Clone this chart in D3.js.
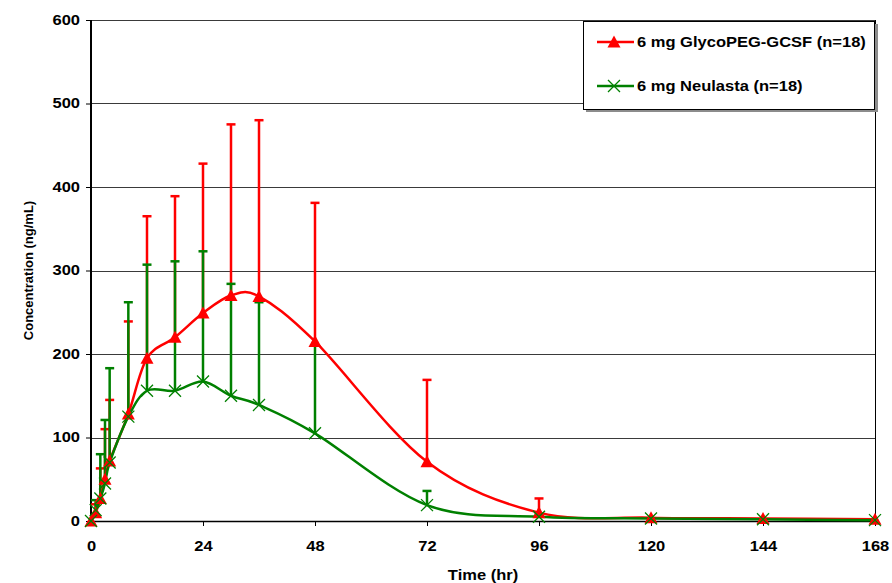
<!DOCTYPE html>
<html>
<head>
<meta charset="utf-8">
<script src="https://cdn.jsdelivr.net/npm/d3@7"></script>
<style>
  body { margin: 0; background: #fff; }
  text { font-family: "Liberation Sans", Arial, sans-serif; font-weight: bold; fill: #000; }
</style>
</head>
<body>
<div id="chart"></div>
<script>
'use strict';

// sampling times (hr)
const times = [0, 1, 2, 3, 4, 8, 12, 18, 24, 30, 36, 48, 72, 96, 120, 144, 168];

// 6 mg GlycoPEG-GCSF: mean and SD (ng/mL), only the upper bar is drawn
const glycoMean = [0, 10, 27, 50, 72, 128, 195, 220, 249, 270, 269, 215, 71, 10, 4, 3, 2];
const glycoSd   = [0, 10, 36, 60, 73, 111, 170, 169, 179, 205, 211, 166, 98, 17, 0, 0, 0];

// 6 mg Neulasta
const neuMean = [0, 13, 27, 45, 70, 125, 156, 156, 167, 150, 139, 105, 19, 5, 3, 2, 1];
const neuSd   = [0, 12, 53, 76, 113, 137, 151, 155, 156, 134, 123, 105, 17, 3, 0, 0, 0];

const xTicks = [0, 24, 48, 72, 96, 120, 144, 168];
const yTicks = [0, 100, 200, 300, 400, 500, 600];
const seriesNames = ["6 mg GlycoPEG-GCSF (n=18)", "6 mg Neulasta (n=18)"];

const width = 892, height = 583;
const margin = {top: 20, right: 17, bottom: 62, left: 91};
const sx = 1.18; // the original text looks horizontally stretched

const svg = d3.select("#chart").append("svg")
    .attr("width", width)
    .attr("height", height)
    .attr("viewBox", `0 0 ${width} ${height}`);

const x = d3.scaleLinear().domain([0, 168]).range([margin.left, width - margin.right]);
const y = d3.scaleLinear().domain([0, 600]).range([height - margin.bottom, margin.top]);

const series = [
  {name: seriesNames[0], color: "#ff0000", marker: "tri",
   pts: times.map((t, i) => ({t: t, v: glycoMean[i], sd: glycoSd[i]}))},
  {name: seriesNames[1], color: "#008000", marker: "x",
   pts: times.map((t, i) => ({t: t, v: neuMean[i], sd: neuSd[i]}))}
];

// gridlines
svg.append("g")
    .selectAll("line")
    .data(yTicks.filter(d => d > 0))
    .join("line")
    .attr("x1", x(0)).attr("x2", x(168))
    .attr("y1", d => Math.round(y(d)) + 0.5)
    .attr("y2", d => Math.round(y(d)) + 0.5)
    .attr("stroke", "#3a3a3a")
    .attr("stroke-width", 1);

// right border of the plot area
svg.append("line")
    .attr("x1", x(168) + 0.5).attr("x2", x(168) + 0.5)
    .attr("y1", y(600)).attr("y2", y(0))
    .attr("stroke", "#000");

// axes
const yAxis = svg.append("g")
    .attr("transform", `translate(${x(0)},0)`)
    .call(d3.axisLeft(y).tickValues(yTicks).tickSize(5).tickSizeOuter(0).tickPadding(6));
yAxis.select(".domain").remove();
yAxis.selectAll("line").attr("stroke-width", 1);
yAxis.selectAll("text")
    .attr("x", -11 / sx)
    .attr("transform", `scale(${sx},1)`)
    .style("font-size", "14px")
    .style("font-family", null);

const xAxis = svg.append("g")
    .attr("transform", `translate(0,${y(0)})`)
    .call(d3.axisBottom(x).tickValues(xTicks).tickSize(5).tickSizeOuter(0));
xAxis.select(".domain").remove();
xAxis.selectAll("line").attr("stroke-width", 1);
xAxis.selectAll("text")
    .attr("y", 20)
    .attr("transform", `scale(${sx},1)`)
    .style("font-size", "14px")
    .style("font-family", null);

svg.append("line")
    .attr("x1", x(0)).attr("x2", x(168) + 1)
    .attr("y1", y(0) + 0.5).attr("y2", y(0) + 0.5)
    .attr("stroke", "#000").attr("stroke-width", 1.5);
svg.append("line")
    .attr("x1", x(0)).attr("x2", x(0))
    .attr("y1", y(600)).attr("y2", y(0) + 1)
    .attr("stroke", "#000").attr("stroke-width", 2);

// axis titles
svg.append("text")
    .attr("transform", `translate(${(x(0) + x(168)) / 2},580) scale(${sx},1)`)
    .attr("text-anchor", "middle")
    .style("font-size", "14px")
    .text("Time (hr)");

svg.append("text")
    .attr("transform", `translate(33,${(y(0) + y(600)) / 2}) rotate(-90)`)
    .attr("text-anchor", "middle")
    .style("font-size", "13px")
    .text("Concentration (ng/mL)");

// error bars (mean + SD only)
const capW = 4.5;
series.forEach(s => {
  const g = svg.append("g").attr("class", "errbars");
  const bars = s.pts.filter(d => d.sd > 0);
  g.selectAll("line.bar")
      .data(bars)
      .join("line")
      .attr("class", "bar")
      .attr("x1", d => x(d.t)).attr("x2", d => x(d.t))
      .attr("y1", d => y(d.v)).attr("y2", d => y(d.v + d.sd))
      .attr("stroke", s.color).attr("stroke-width", 2.5);
  g.selectAll("line.cap")
      .data(bars)
      .join("line")
      .attr("class", "cap")
      .attr("x1", d => x(d.t) - capW).attr("x2", d => x(d.t) + capW)
      .attr("y1", d => y(d.v + d.sd)).attr("y2", d => y(d.v + d.sd))
      .attr("stroke", s.color).attr("stroke-width", 2.5);
});

// smoothed lines (Excel style smoothing ~ uniform Catmull-Rom)
const line = d3.line()
    .x(d => x(d.t))
    .y(d => y(d.v))
    .curve(d3.curveCardinal.tension(0));

series.forEach(s => {
  svg.append("path")
      .datum(s.pts)
      .attr("d", line)
      .attr("fill", "none")
      .attr("stroke", s.color)
      .attr("stroke-width", 2.5)
      .attr("stroke-linejoin", "round");
});

// markers
const triPath = "M0,-6.5L6.5,5.5L-6.5,5.5Z";
const xPath = "M-6,-6L6,6M-6,6L6,-6";

function drawMarker(sel, s) {
  if (s.marker === "tri") {
    sel.append("path").attr("d", triPath).attr("fill", s.color);
  } else {
    sel.append("path").attr("d", xPath).attr("fill", "none")
        .attr("stroke", s.color).attr("stroke-width", 1.3);
  }
}

series.forEach(s => {
  svg.append("g")
      .selectAll("g")
      .data(s.pts)
      .join("g")
      .attr("transform", d => `translate(${x(d.t)},${y(d.v)})`)
      .each(function() { drawMarker(d3.select(this), s); });
});

// legend
const legend = svg.append("g");
legend.append("rect")
    .attr("x", 586).attr("y", 24)
    .attr("width", 292).attr("height", 88)
    .attr("fill", "#8c8c8c");
legend.append("rect")
    .attr("x", 583.5).attr("y", 21.5)
    .attr("width", 291).attr("height", 88)
    .attr("fill", "#fff")
    .attr("stroke", "#000");

const legRows = [42, 86];
series.forEach((s, i) => {
  const row = legend.append("g").attr("transform", `translate(0,${legRows[i]})`);
  row.append("line")
      .attr("x1", 597).attr("x2", 634)
      .attr("stroke", s.color).attr("stroke-width", 2.5);
  const m = row.append("g").attr("transform", "translate(614,0)");
  drawMarker(m, s);
  row.append("text")
      .attr("transform", `translate(637,5) scale(${sx},1)`)
      .style("font-size", "14px")
      .text(s.name);
});
</script>
</body>
</html>
